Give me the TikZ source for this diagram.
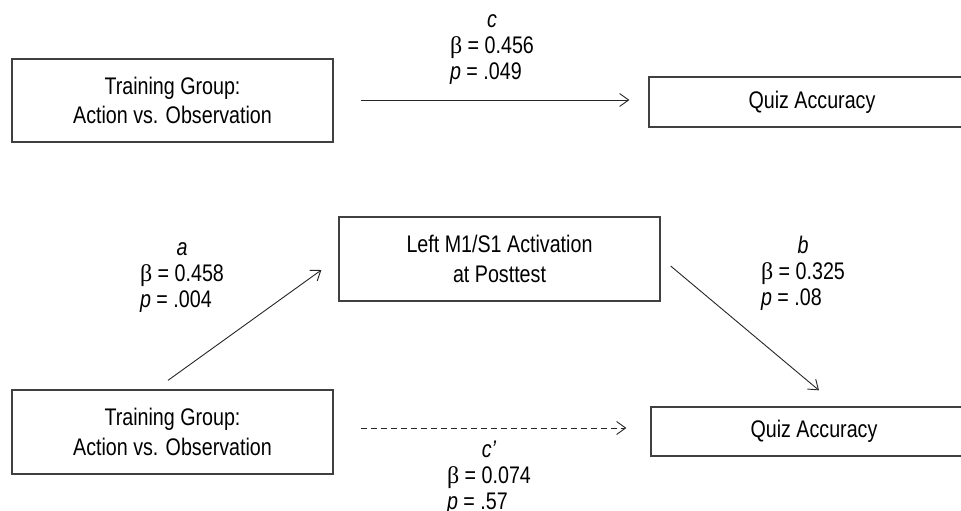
\documentclass[tikz,border=0pt]{standalone}
\usepackage{fontspec}
\setmainfont{Liberation Sans}[FakeStretch=0.82]
\newfontfamily\greekfont{Liberation Serif}
\usetikzlibrary{arrows.meta}

\newcommand{\betaeq}[1]{{\greekfont β} = #1}
\newcommand{\pval}[1]{\textit{p} = #1}
\newcommand{\coeflines}[3]{\begin{tabular}[t]{@{}l@{}}\multicolumn{1}{@{}c@{}}{\textit{#1}}\\ \betaeq{#2}\\ \pval{#3}\end{tabular}}

\begin{document}
\begin{tikzpicture}[x=1pt, y=-1pt, >={Straight Barb[length=9pt,width=13pt]},
  varbox/.style={draw=black!75, line width=1.3pt, minimum width=321pt, inner sep=0pt, align=center, font=\fontsize{24}{29.5}\selectfont},
  coef/.style={anchor=base, inner sep=0pt, font=\fontsize{24}{26}\selectfont},
  link/.style={->, draw=black!85, line width=0.9pt}]

\useasboundingbox (0,0) rectangle (961,511);
\clip (0,0) rectangle (961,511);

% total effect
\node[varbox, minimum height=83pt] (tg) at (172.5,100.5) {Training Group:\\Action vs. Observation};
\node[varbox, minimum width=326pt, minimum height=50pt] (qa) at (812,102) {Quiz Accuracy};
\draw[link, shorten <=27pt, shorten >=19pt] ([yshift=0.5pt]tg.east) -- ([yshift=0.5pt]tg.east -| qa.west);
\node[coef] (lc) at (492,28) {\coeflines{c}{0.456}{.049}};

% mediation model
\node[varbox, minimum height=84pt] (m1) at (499.5,259) {Left M1/S1 Activation\\at Posttest};
\node[varbox, minimum height=84pt] (tg2) at (172.5,432) {Training Group:\\Action vs. Observation};
\node[varbox, minimum width=326pt, minimum height=49pt] (qa2) at (814,431.5) {Quiz Accuracy};

\draw[link] ([xshift=-4.5pt,yshift=9pt]tg2.north) -- ([xshift=-17pt,yshift=-11pt]m1.west);
\draw[link] ([xshift=10pt,yshift=-7pt]m1.east) -- ([xshift=5pt,yshift=16pt]qa2.north);
\draw[link, dash pattern=on 6pt off 4pt, shorten <=27pt, shorten >=24pt] ([yshift=4pt]tg2.east) -- ([yshift=4pt]tg2.east -| qa2.west);

\node[coef] (la) at (182,255) {\coeflines{a}{0.458}{.004}};
\node[coef] (lb) at (803,253) {\coeflines{b}{0.325}{.08}};
\node[coef] (lcp) at (489,457) {\coeflines{c'}{0.074}{.57}};

\end{tikzpicture}
\end{document}
